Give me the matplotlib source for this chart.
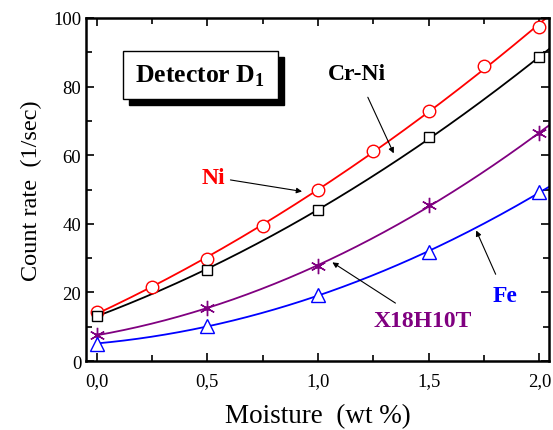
import numpy as np
import matplotlib.pyplot as plt
from matplotlib.patches import Rectangle
from matplotlib.ticker import MultipleLocator, FuncFormatter

plt.rcParams['font.family'] = 'Liberation Serif'
plt.rcParams['mathtext.fontset'] = 'custom'
plt.rcParams['mathtext.rm'] = 'Liberation Serif'
plt.rcParams['mathtext.bf'] = 'Liberation Serif:bold'

# moisture (wt %)
x_ni = [0.0, 0.25, 0.5, 0.75, 1.0, 1.25, 1.5, 1.75, 2.0]
ni = [14.2, 21.7, 29.7, 39.4, 50.0, 61.1, 73.0, 86.1, 97.4]
x_other = [0.0, 0.5, 1.0, 1.5, 2.0]
crni = [13.2, 26.6, 44.0, 65.2, 88.5]
x18 = [7.6, 15.4, 27.6, 45.6, 66.4]
fe = [5.1, 10.1, 19.2, 31.9, 49.2]

series = [
    (x_ni, ni, 'red', 'o', 9),
    (x_other, crni, 'black', 's', 7.5),
    (x_other, x18, 'purple', (6, 2, 0), 11),
    (x_other, fe, 'blue', '^', 9.5),
]

fig = plt.figure(figsize=(5.53, 4.31), dpi=100)
ax = fig.add_axes([0.1555, 0.160, 0.8373, 0.796])

xx = np.linspace(0, 2.05, 200)
for xs, ys, col, mk, ms in series:
    p = np.polyfit(xs, ys, 2)
    ax.plot(xx, np.polyval(p, xx), color=col, lw=1.3, zorder=2)
    if mk in ('o', 's', '^'):
        ax.plot(xs, ys, ls='none', marker=mk, ms=ms, mfc='white', mec=col,
                mew=1.0, zorder=3)
    else:
        ax.plot(xs, ys, ls='none', marker=mk, ms=ms, color=col, mew=1.0, zorder=3)
        ax.plot(xs, ys, ls='none', marker='o', ms=2.5, color=col, zorder=3)

ax.set_xlim(-0.048, 2.043)
ax.set_ylim(0, 100)
ax.xaxis.set_major_locator(MultipleLocator(0.5))
ax.xaxis.set_minor_locator(MultipleLocator(0.25))
ax.yaxis.set_major_locator(MultipleLocator(20))
ax.yaxis.set_minor_locator(MultipleLocator(10))
ax.xaxis.set_major_formatter(FuncFormatter(lambda v, pos: f"{v:.1f}".replace('.', ',')))
ax.tick_params(which='both', direction='in', top=True, right=True, labelsize=13.5, width=1.2)
ax.tick_params(which='major', length=6)
ax.tick_params(which='minor', length=4)
ax.tick_params(axis='x', pad=8)
for s in ax.spines.values():
    s.set_linewidth(1.8)

ax.set_xlabel('Moisture  (wt %)', fontsize=19.5, labelpad=10)
ax.set_ylabel('Count rate  (1/sec)', fontsize=17.5, labelpad=8)

# detector box with shadow
ax.add_patch(Rectangle((0.145, 74.6), 0.70, 14.0, facecolor='black', edgecolor='black', zorder=4))
ax.add_patch(Rectangle((0.119, 76.4), 0.70, 14.0, facecolor='white', edgecolor='black', lw=1.0, zorder=5))
ax.text(0.468, 83.4, r'Detector D$_\mathbf{1}$', fontsize=18.5, fontweight='bold',
        ha='center', va='center', zorder=6)

arrow = dict(arrowstyle='-|>', color='black', lw=0.8, mutation_scale=8)
ax.annotate('Ni', xy=(0.94, 49.3), xytext=(0.526, 53.6), color='red', fontsize=17,
            fontweight='bold', ha='center', va='center', arrowprops=arrow)
ax.annotate('Cr-Ni', xy=(1.347, 59.8), xytext=(1.176, 83.7), color='black', fontsize=17,
            fontweight='bold', ha='center', va='center', arrowprops=dict(arrow, shrinkA=8))
ax.annotate('X18H10T', xy=(1.054, 29.2), xytext=(1.474, 11.7), color='purple', fontsize=17,
            fontweight='bold', ha='center', va='center', arrowprops=dict(arrow, shrinkA=6))
ax.annotate('Fe', xy=(1.709, 38.8), xytext=(1.844, 19.2), color='blue', fontsize=17,
            fontweight='bold', ha='center', va='center', arrowprops=dict(arrow, shrinkA=6))

fig.savefig('out.png', dpi=100)
